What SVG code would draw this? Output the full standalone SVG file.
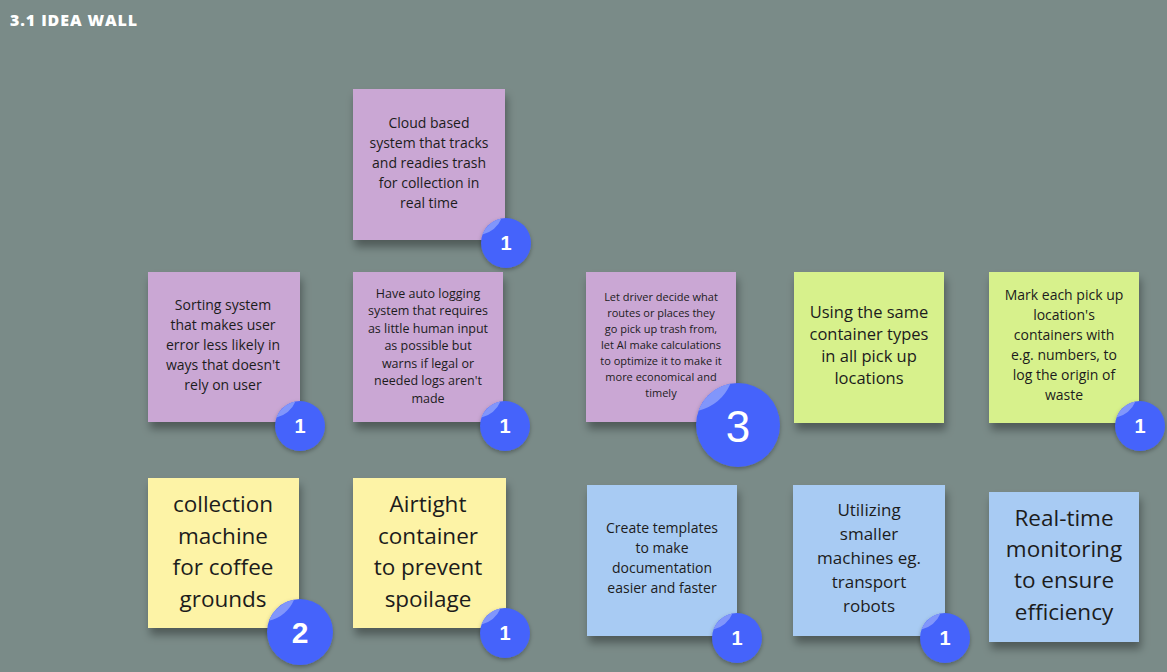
<svg xmlns="http://www.w3.org/2000/svg" xmlns:xlink="http://www.w3.org/1999/xlink" width="1167" height="672" viewBox="0 0 1167 672">
<style>
.title{font-family:"Open Sans","Liberation Sans",sans-serif;font-weight:800;font-size:16px;fill:#ffffff;letter-spacing:0.9px}
.t{font-family:"Open Sans","Liberation Sans",sans-serif;fill:#1c1c1c;text-anchor:middle}
.bn{font-family:"Liberation Sans","Arial",sans-serif;fill:#ffffff;text-anchor:middle;font-weight:700}
.purple{fill:#caa7d4}
.green{fill:#d7f18c}
.yellow{fill:#fdf3a6}
.blue{fill:#a8cbf3}
</style>
<defs>
<filter id="sh" x="-20%" y="-20%" width="140%" height="150%">
<feDropShadow dx="2" dy="7" stdDeviation="4" flood-color="#000" flood-opacity="0.35"/>
</filter>
<filter id="bsh" x="-30%" y="-30%" width="160%" height="160%">
<feDropShadow dx="0" dy="2" stdDeviation="2" flood-color="#000" flood-opacity="0.3"/>
</filter>
<symbol id="badge" viewBox="0 0 100 100" overflow="visible">
<circle cx="50" cy="50" r="50" fill="#4463fb"/>
<path d="M3 33 A50 50 0 0 1 41 1 Q30 26 3 33 Z" fill="#8196fb"/>
</symbol>
</defs>
<rect width="1167" height="672" fill="#7a8b88"/>
<text class="title" x="10" y="26">3.1 IDEA WALL</text>

<g id="connectors"></g>

<g id="note-cloud">
<rect class="purple" x="353" y="89" width="152" height="151" filter="url(#sh)"/>
<text class="t" font-size="14"><tspan x="429" y="128">Cloud based</tspan><tspan x="429" y="148">system that tracks</tspan><tspan x="429" y="168">and readies trash</tspan><tspan x="429" y="188">for collection in</tspan><tspan x="429" y="208">real time</tspan></text>
<use href="#badge" x="481" y="218" width="50" height="50" filter="url(#bsh)"/>
<text class="bn" x="506" y="250" font-size="20">1</text>
</g>

<g id="note-sorting">
<rect class="purple" x="148" y="272" width="152" height="150" filter="url(#sh)"/>
<text class="t" font-size="14"><tspan x="223" y="310">Sorting system</tspan><tspan x="223" y="330">that makes user</tspan><tspan x="223" y="350">error less likely in</tspan><tspan x="223" y="370">ways that doesn't</tspan><tspan x="223" y="390">rely on user</tspan></text>
<use href="#badge" x="275" y="401" width="50" height="50" filter="url(#bsh)"/>
<text class="bn" x="300" y="433" font-size="20">1</text>
</g>

<g id="note-autolog">
<rect class="purple" x="353" y="272" width="150" height="150" filter="url(#sh)"/>
<text class="t" font-size="12.5"><tspan x="428" y="297.5">Have auto logging</tspan><tspan x="428" y="315">system that requires</tspan><tspan x="428" y="332.5">as little human input</tspan><tspan x="428" y="350">as possible but</tspan><tspan x="428" y="367.5">warns if legal or</tspan><tspan x="428" y="385">needed logs aren't</tspan><tspan x="428" y="402.5">made</tspan></text>
<use href="#badge" x="480" y="401" width="50" height="50" filter="url(#bsh)"/>
<text class="bn" x="505" y="433" font-size="20">1</text>
</g>

<g id="note-driver">
<rect class="purple" x="586" y="272" width="150" height="150" filter="url(#sh)"/>
<text class="t" font-size="11"><tspan x="661" y="301">Let driver decide what</tspan><tspan x="661" y="317">routes or places they</tspan><tspan x="661" y="333">go pick up trash from,</tspan><tspan x="661" y="349">let AI make calculations</tspan><tspan x="661" y="365">to optimize it to make it</tspan><tspan x="661" y="381">more economical and</tspan><tspan x="661" y="397">timely</tspan></text>
<use href="#badge" x="696" y="383" width="84" height="84" filter="url(#bsh)"/>
<text class="bn" x="738" y="442" font-size="44" style="font-weight:400">3</text>
</g>

<g id="note-container">
<rect class="green" x="794" y="272" width="150" height="151" filter="url(#sh)"/>
<text class="t" font-size="16.5"><tspan x="869" y="318">Using the same</tspan><tspan x="869" y="340">container types</tspan><tspan x="869" y="362">in all pick up</tspan><tspan x="869" y="384">locations</tspan></text>
</g>

<g id="note-mark">
<rect class="green" x="989" y="272" width="150" height="151" filter="url(#sh)"/>
<text class="t" font-size="14"><tspan x="1064" y="300">Mark each pick up</tspan><tspan x="1064" y="320">location's</tspan><tspan x="1064" y="340">containers with</tspan><tspan x="1064" y="360">e.g. numbers, to</tspan><tspan x="1064" y="380">log the origin of</tspan><tspan x="1064" y="400">waste</tspan></text>
<use href="#badge" x="1115" y="401" width="50" height="50" filter="url(#bsh)"/>
<text class="bn" x="1140" y="433" font-size="20">1</text>
</g>

<g id="note-coffee">
<rect class="yellow" x="148" y="478" width="151" height="150" filter="url(#sh)"/>
<text class="t" font-size="22.5"><tspan x="223" y="512">collection</tspan><tspan x="223" y="543.5">machine</tspan><tspan x="223" y="575">for coffee</tspan><tspan x="223" y="606.5">grounds</tspan></text>
<use href="#badge" x="267" y="599" width="66" height="66" filter="url(#bsh)"/>
<text class="bn" x="300" y="643" font-size="30">2</text>
</g>

<g id="note-airtight">
<rect class="yellow" x="353" y="478" width="153" height="150" filter="url(#sh)"/>
<text class="t" font-size="22.5"><tspan x="428" y="512">Airtight</tspan><tspan x="428" y="543.5">container</tspan><tspan x="428" y="575">to prevent</tspan><tspan x="428" y="606.5">spoilage</tspan></text>
<use href="#badge" x="480" y="608" width="50" height="50" filter="url(#bsh)"/>
<text class="bn" x="505" y="640" font-size="20">1</text>
</g>

<g id="note-templates">
<rect class="blue" x="587" y="485" width="150" height="151" filter="url(#sh)"/>
<text class="t" font-size="14"><tspan x="662" y="533">Create templates</tspan><tspan x="662" y="553">to make</tspan><tspan x="662" y="573">documentation</tspan><tspan x="662" y="593">easier and faster</tspan></text>
<use href="#badge" x="712" y="613" width="50" height="50" filter="url(#bsh)"/>
<text class="bn" x="737" y="645" font-size="20">1</text>
</g>

<g id="note-robots">
<rect class="blue" x="793" y="485" width="152" height="151" filter="url(#sh)"/>
<text class="t" font-size="17"><tspan x="869" y="516">Utilizing</tspan><tspan x="869" y="540">smaller</tspan><tspan x="869" y="564">machines eg.</tspan><tspan x="869" y="588">transport</tspan><tspan x="869" y="612">robots</tspan></text>
<use href="#badge" x="920" y="613" width="50" height="50" filter="url(#bsh)"/>
<text class="bn" x="945" y="645" font-size="20">1</text>
</g>

<g id="note-realtime">
<rect class="blue" x="989" y="492" width="150" height="150" filter="url(#sh)"/>
<text class="t" font-size="22.5"><tspan x="1064" y="526">Real-time</tspan><tspan x="1064" y="557">monitoring</tspan><tspan x="1064" y="588">to ensure</tspan><tspan x="1064" y="620">efficiency</tspan></text>
</g>
</svg>
